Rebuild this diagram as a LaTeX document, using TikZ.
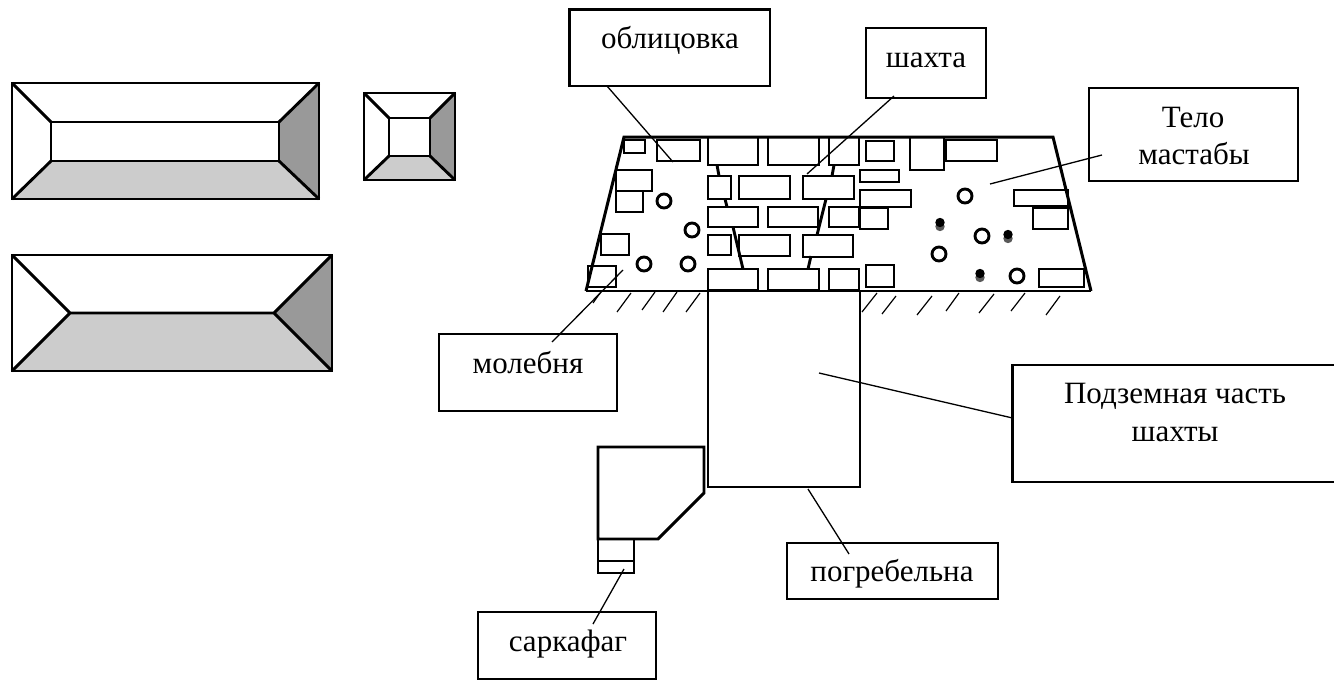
\documentclass[tikz,border=0pt]{standalone}
\usepackage{fontspec}
\setmainfont{Liberation Serif}
\tikzset{
  x=1pt,y=-1pt,
  thick line/.style={line width=2.9pt,line join=miter},
  labelbox/.style={draw=black,line width=2.4pt,line join=miter},
  leader/.style={draw=black,line width=1.3pt},
  hatchline/.style={draw=black,line width=1.2pt},
  brick/.style={draw=black,line width=2.9pt},
  ring/.style={draw=black,line width=2.9pt,fill=white},
  txt/.style={font=\fontsize{31}{37.5}\selectfont,inner sep=0pt,anchor=base,align=center,text=black}
}
\definecolor{lightface}{HTML}{CCCCCC}
\definecolor{darkface}{HTML}{999999}
\begin{document}
\begin{tikzpicture}
\useasboundingbox (0,0) rectangle (1334,680);
% --- left plans
\fill[lightface] (12,199) -- (51,161) -- (279,161) -- (319,199) -- cycle;
\fill[darkface] (319,83) -- (279,122) -- (279,161) -- (319,199) -- cycle;
\draw[thick line] (12,83) rectangle (319,199);
\draw[thick line] (51,122) rectangle (279,161);
\draw[thick line] (12,83) -- (51,122) (319,83) -- (279,122) (12,199) -- (51,161) (319,199) -- (279,161);
\fill[lightface] (364,180) -- (389,156) -- (430,156) -- (455,180) -- cycle;
\fill[darkface] (455,93) -- (430,118) -- (430,156) -- (455,180) -- cycle;
\draw[thick line] (364,93) rectangle (455,180);
\draw[thick line] (389,118) rectangle (430,156);
\draw[thick line] (364,93) -- (389,118) (455,93) -- (430,118) (364,180) -- (389,156) (455,180) -- (430,156);
\fill[lightface] (12,371) -- (70,313) -- (274,313) -- (332,371) -- cycle;
\fill[darkface] (332,255) -- (274,313) -- (332,371) -- cycle;
\draw[thick line] (12,255) rectangle (332,371);
\draw[thick line] (12,255) -- (70,313) -- (12,371) (332,255) -- (274,313) -- (332,371) (70,313) -- (274,313);
% --- mastaba
\draw[line width=3pt,line join=miter] (586,291) -- (624,137) -- (1053,137) -- (1091,291);
\draw[line width=2.8pt] (586,291) -- (1091,291);
\foreach \xa/\ya/\xb/\yb in {
 624/140/645/153, 657/140/700/161, 708/137/758/165, 768/137/819/165, 829/137/859/165,
 616/170/652/191, 616/191/643/212, 601/234/629/255, 588/266/616/287,
 708/176/731/199, 739/176/790/199, 803/176/854/199,
 708/207/758/227, 768/207/818/227, 829/207/859/227,
 708/235/731/255, 739/235/790/256, 803/235/853/257,
 708/269/758/290, 768/269/819/290, 829/269/859/290,
 866/141/894/161, 910/137/944/170, 946/140/997/161,
 860/170/899/182, 860/190/911/207, 860/208/888/229, 866/265/894/287,
 1014/190/1068/206, 1033/208/1068/229, 1039/269/1084/287}
 {\draw[brick] (\xa,\ya) rectangle (\xb,\yb);}
\foreach \xa/\ya/\xb/\yb in {
 717/165/719/176, 725/199/727/207, 733/227/743/269,
 834/165/832/176, 826/199/817/235, 811/256/808/269}
 {\draw[brick] (\xa,\ya) -- (\xb,\yb);}
\foreach \cx/\cy in {664/201, 692/230, 644/264, 688/264, 965/196, 982/236, 939/254, 1017/276}
 {\draw[ring] (\cx,\cy) circle[radius=7];}
\foreach \cx/\cy in {940/223, 1008/235, 980/274}
 {\fill[black!65] (\cx,\cy+3.5) circle[radius=4.7]; \fill[black] (\cx,\cy-0.5) circle[radius=4.7];}
\foreach \xa/\ya/\xb/\yb in {
 600/293/593/303, 631/293/617/312, 655/292/642/310, 677/292/663/312, 700/293/686/312,
 877/293/862/312, 896/296/882/314, 932/296/917/315, 959/293/946/311, 994/294/979/313,
 1025/293/1011/311, 1060/296/1046/315}
 {\draw[hatchline] (\xa,\ya) -- (\xb,\yb);}
% --- shaft and chamber
\draw[line width=2.9pt,line join=miter] (708,291) -- (708,487) -- (860,487) -- (860,291);
\draw[line width=2.9pt,line join=miter] (598,447) -- (704,447) -- (704,493) -- (658,539) -- (598,539) -- cycle;
\draw[line width=1.3pt] (598,539) rectangle (634,561);
\draw[line width=2.7pt] (598,561) rectangle (634,573);
% --- label boxes
\node[labelbox,minimum width=200.5pt,minimum height=76.5pt,inner sep=0pt] (oblic) at (669.75,47.75) {};
\node[labelbox,minimum width=120pt,minimum height=70pt,inner sep=0pt] (shakhta) at (926,63) {};
\node[labelbox,minimum width=209pt,minimum height=93pt,inner sep=0pt] (telo) at (1193.5,134.5) {};
\node[labelbox,minimum width=178pt,minimum height=77pt,inner sep=0pt] (moleb) at (528,372.5) {};
\node[labelbox,minimum width=211pt,minimum height=56pt,inner sep=0pt] (pogreb) at (892.5,571) {};
\node[labelbox,minimum width=178pt,minimum height=67pt,inner sep=0pt] (sark) at (567,645.5) {};
\draw[labelbox] (1334,365) -- (1012.5,365) -- (1012.5,482) -- (1334,482);
\coordinate (podz) at (1012.5,418);
% --- texts
\node[txt] (t1) at (670,48) {облицовка};
\node[txt] (t2) at (926,67) {шахта};
\node[txt] (t3) at (1193,127) {Тело};
\node[txt] (t4) at (1194,164) {мастабы};
\node[txt] (t5) at (528,373) {молебня};
\node[txt] (t6) at (892,581) {погребельна};
\node[txt] (t7) at (568,651) {саркафаг};
\node[txt] (t8) at (1175,403) {Подземная часть};
\node[txt] (t9) at (1175,441) {шахты};
% --- leaders
\coordinate (e1) at (607,86);   \coordinate (f1) at (673,162);
\coordinate (e2) at (894,96);   \coordinate (f2) at (807,174);
\coordinate (e3) at (1102,155); \coordinate (f3) at (990,184);
\coordinate (e4) at (552,342);  \coordinate (f4) at (623,270);
\coordinate (f5) at (819,373);
\coordinate (e6) at (849,554);  \coordinate (f6) at (808,489);
\coordinate (e7) at (593,624);  \coordinate (f7) at (624,569);
\draw[leader] (e1) -- (f1);
\draw[leader] (e2) -- (f2);
\draw[leader] (e3) -- (f3);
\draw[leader] (e4) -- (f4);
\draw[leader] (podz) -- (f5);
\draw[leader] (e6) -- (f6);
\draw[leader] (e7) -- (f7);
\end{tikzpicture}
\end{document}
